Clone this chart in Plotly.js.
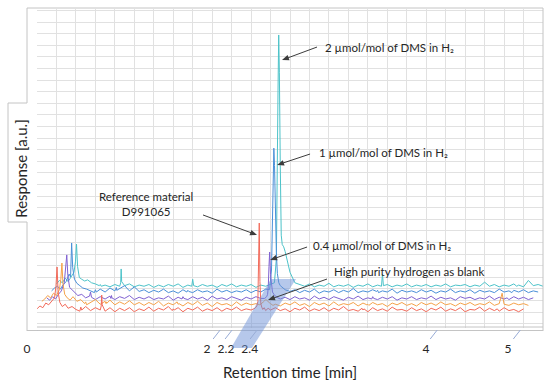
<!DOCTYPE html>
<html><head><meta charset="utf-8">
<script src="https://cdn.plot.ly/plotly-3.0.1.min.js"></script>
<style>html,body{margin:0;padding:0;background:#fff}#chart{width:550px;height:384px}</style>
</head><body><div id="chart"></div>
<script>
// Retention time samples (min), in the frame of the front series
const retentionTime = [
0.00,0.03,0.06,0.09,0.12,0.15,0.18,0.195,0.206,0.217,0.235,0.26,0.29,0.32,0.36,
0.40,0.44,0.45,0.46,0.50,0.55,0.60,0.65,0.66,0.665,0.67,0.70,0.75,0.80,0.85,0.90,0.95,1.00,
1.05,1.10,1.15,1.20,1.25,1.30,1.35,1.39,1.40,1.41,1.45,1.50,1.55,1.60,1.65,1.70,1.75,1.80,1.85,1.90,1.95,2.00,2.05,2.10,2.15,2.20,
2.24,2.26,2.27,2.277,2.284,2.291,2.30,2.31,2.32,2.335,2.35,2.375,2.40,
2.45,2.50,2.55,2.60,2.65,2.70,2.75,2.80,2.85,2.90,2.95,3.00,3.05,3.10,3.15,3.20,3.25,3.30,3.34,3.35,3.36,3.40,3.45,3.50,3.55,3.60,3.65,3.70,
3.75,3.80,3.85,3.90,3.95,4.00,4.05,4.10,4.15,4.20,4.25,4.30,4.35,4.40,4.45,4.50,4.55,4.60,4.65,4.70,4.73,4.75,4.80,4.85,4.90,4.95,5.00
];

const seriesNames = ['Reference material D991065','High purity hydrogen as blank','0.4 µmol/mol of DMS in H₂','1 µmol/mol of DMS in H₂','2 µmol/mol of DMS in H₂'];
const seriesColors = ['#f26a5a','#f5a24a','#8062d2','#4a8fd8','#4cc3c9'];

// Responses [a.u.]
const refMaterial = [
1.65,1.9,1.75,2.15,2.0,2.35,2.6,3.6,5.26,3.1,2.2,1.85,2.05,1.7,1.85,
1.6,1.45,1.8,1.55,1.85,1.5,1.75,1.55,1.9,2.84,2.0,1.45,1.75,1.4,1.7,1.5,1.75,1.4,
1.65,1.5,1.8,1.45,1.7,1.55,1.85,1.5,1.65,1.55,1.75,1.4,1.7,1.55,1.8,1.45,1.65,1.5,1.75,1.45,1.7,1.55,1.8,1.5,1.65,1.55,
1.7,1.9,2.3,5.0,9.05,4.0,2.1,1.8,1.6,1.75,1.5,1.7,1.55,
1.75,1.5,1.65,1.4,1.7,1.55,1.8,1.45,1.65,1.5,1.75,1.45,1.7,1.55,1.85,1.5,1.6,1.45,1.7,1.55,1.65,1.4,1.75,1.5,1.65,1.45,1.8,1.55,
1.6,1.45,1.75,1.5,1.65,1.4,1.7,1.55,1.8,1.45,1.65,1.5,1.75,1.4,1.6,1.55,1.8,1.45,1.7,1.5,1.65,1.45,1.75,1.5,1.6,1.4,1.65
];
const blankH2 = [
1.8,2.0,2.3,2.1,2.5,2.3,2.8,3.7,5.1,3.3,2.4,2.1,1.9,2.2,1.8,
1.95,1.6,1.75,1.5,1.7,1.95,1.55,1.8,1.6,1.75,1.65,1.9,1.5,1.75,1.55,1.85,1.5,1.7,
1.45,1.7,1.5,1.8,1.4,1.65,1.5,1.75,1.55,1.6,1.4,1.7,1.5,1.8,1.45,1.65,1.35,1.7,1.5,1.6,1.4,1.75,1.45,1.65,1.5,1.6,
1.5,1.6,1.7,1.75,1.8,1.85,1.95,1.9,1.8,1.7,1.6,1.45,1.55,
1.4,1.65,1.5,1.75,1.45,1.6,1.35,1.7,1.5,1.65,1.4,1.75,1.45,1.6,1.5,1.7,1.4,1.65,1.5,1.55,1.45,1.7,1.5,1.6,1.35,1.65,1.5,1.7,
1.45,1.6,1.4,1.7,1.5,1.65,1.45,1.75,1.5,1.6,1.4,1.65,1.5,1.7,1.45,1.6,1.5,1.75,1.45,1.6,2.5,1.55,1.45,1.65,1.5,1.6,1.45
];
const dms04 = [
1.6,1.4,1.7,1.5,1.9,2.2,2.9,4.1,5.3,3.5,2.5,2.3,2.0,1.8,1.9,
1.6,1.75,2.1,1.65,1.45,1.7,1.5,1.75,1.55,1.8,1.6,1.45,1.7,1.55,1.8,1.45,1.65,1.5,
1.7,1.45,1.6,1.5,1.75,1.4,1.65,1.5,1.7,1.55,1.45,1.7,1.5,1.65,1.4,1.75,1.5,1.6,1.45,1.7,1.55,1.4,1.65,1.5,1.7,1.55,
1.55,1.7,1.9,2.6,4.3,5.55,3.6,2.4,2.1,1.9,1.75,1.6,1.5,
1.65,1.45,1.7,1.5,1.6,1.4,1.75,1.5,1.65,1.45,1.7,1.55,1.4,1.65,1.5,1.75,1.45,1.6,1.5,1.7,1.55,1.45,1.65,1.5,1.7,1.4,1.6,1.5,
1.7,1.45,1.6,1.5,1.75,1.45,1.65,1.5,1.6,1.4,1.7,1.55,1.65,1.45,1.6,1.5,1.75,1.45,1.65,1.5,1.6,1.45,1.7,1.5,1.65,1.45,1.6
];
const dms1 = [
1.7,1.95,2.1,1.85,2.25,2.5,3.15,2.9,5.83,3.7,2.7,2.35,2.15,1.95,1.85,
1.7,1.55,1.8,1.6,1.85,1.6,1.95,1.7,1.85,2.0,1.75,1.9,2.15,1.7,2.05,1.65,1.8,1.55,
1.75,1.6,1.85,1.55,1.7,1.5,1.8,1.6,1.75,1.65,1.55,1.8,1.6,1.7,1.5,1.85,1.6,1.75,1.55,1.7,1.6,1.8,1.55,1.75,1.6,1.85,
1.8,3.5,7.5,11.5,14.0,12.5,8.5,5.0,3.2,2.4,2.15,1.95,1.8,
1.65,1.8,1.55,1.75,1.6,1.85,1.5,1.7,1.6,1.8,1.55,1.75,1.6,1.9,1.55,1.7,1.6,1.8,1.65,1.75,1.55,1.7,1.6,1.85,1.5,1.75,1.6,1.7,
1.55,1.8,1.6,1.75,1.5,1.7,1.6,1.85,1.55,1.7,1.6,1.8,1.5,1.75,1.6,1.7,1.55,1.85,1.6,1.7,1.55,1.75,1.6,1.8,1.55,1.7,1.6
];
const dms2 = [
1.8,2.1,1.9,2.3,2.0,2.4,2.8,3.7,5.24,3.3,2.35,2.2,2.05,2.15,1.9,
1.8,1.65,1.75,1.6,1.7,1.55,1.75,1.6,1.9,3.09,2.0,1.65,1.8,1.55,1.7,1.6,1.75,1.5,
1.7,1.55,1.75,1.6,1.8,1.5,1.7,1.6,2.2,1.65,1.55,1.75,1.6,1.7,1.5,1.75,1.6,1.8,1.55,1.7,1.6,1.75,1.5,1.7,1.6,1.75,
1.9,4.0,10.0,18.5,23.26,20.0,12.0,6.0,5.2,5.0,4.6,3.8,2.8,
1.9,1.75,1.6,1.8,1.55,1.7,1.6,1.85,1.55,1.7,1.6,1.75,1.5,1.7,1.6,1.8,1.55,1.7,1.6,2.65,1.65,1.75,1.55,1.7,1.6,1.8,1.55,1.7,
1.6,1.75,1.55,1.7,1.6,1.8,1.55,1.7,1.65,1.75,1.55,1.7,1.6,1.95,1.6,1.75,1.55,1.7,1.6,1.8,1.6,1.7,1.55,2.1,1.65,1.75,1.6
];

// x-axis tick labels (hand-placed in the original figure) and their slanted marks
const tickLabels = ['0', '2', '2.2', '2.4', '4', '5'];
const tickLabelPositions = [0, 1.850, 2.045, 2.289, 4.101, 4.944];
const tickMarkPositions = [0, 1.882, 2.005, 2.262, 4.113, 4.967];

// 3D depth offsets between successive series (style of the original pseudo-3D chart)
const depthX = 0.05, depthY = 0.5;

const allSeries = [refMaterial, blankH2, dms04, dms1, dms2];
const traces = [];
for (let k = allSeries.length - 1; k >= 0; k--) {
  traces.push({
    type: 'scatter', mode: 'lines', name: seriesNames[k],
    x: retentionTime.map(t => t + k * depthX),
    y: allSeries[k].map(v => v + k * depthY),
    line: {color: seriesColors[k], width: 1},
    hoverinfo: 'skip'
  });
}

// frame geometry in pixels (decorative shapes)
const ML = 33, MR = 7, MT = 9, MB = 56, FW = 550, FH = 384;
const PW = FW - ML - MR, PH = FH - MT - MB;
const plotLeft = 37;
const px = v => (v - ML) / PW;
const py = v => (FH - MB - v) / PH;
const P = (a, b) => px(a) + ',' + py(b);

const frameColor = '#c4c4c4';
const shapes = [
  {type: 'path', xref: 'paper', yref: 'paper', layer: 'above',
   path: 'M' + P(27, 331) + 'L' + P(27, 222) + 'L' + P(8, 222) + 'L' + P(8, 103) + 'L' + P(27, 103) + 'L' + P(27, 8) + 'L' + P(543, 8) + 'L' + P(543, 331),
   line: {color: frameColor, width: 1}},
  {type: 'line', xref: 'paper', yref: 'paper', x0: px(37), x1: px(543), y0: py(327), y1: py(327), line: {color: frameColor, width: 1}},
  {type: 'line', xref: 'paper', yref: 'paper', x0: px(27), x1: px(543), y0: py(330.5), y1: py(330.5), line: {color: frameColor, width: 1}},
  {type: 'path', xref: 'paper', yref: 'paper', layer: 'above',
   path: 'M' + P(231, 348) + 'L' + P(252, 348) + 'L' + P(296, 279) + 'L' + P(271, 279) + 'Z',
   fillcolor: 'rgba(110,145,215,0.5)', line: {width: 0}}
];
tickMarkPositions.forEach(tv => shapes.push({
  type: 'line', xref: 'x', yref: 'paper', xsizemode: 'pixel', ysizemode: 'pixel',
  xanchor: tv, yanchor: 0, x0: 0, x1: -7, y0: -2, y1: -11,
  line: {color: '#98acd6', width: 1}
}));

// callout arrows: tip at a data point, tail offset in screen pixels (dx right, dy down)
const arrowColor = '#3c3c3c';
function addArrow(x, y, dx, dy) {
  const len = Math.hypot(dx, dy), ux = dx / len, uy = -dy / len;
  const hl = 7, hw = 2.8;
  const bx = ux * hl, by = uy * hl, nx = -uy * hw, ny = ux * hw;
  shapes.push({type: 'line', xref: 'x', yref: 'y', xsizemode: 'pixel', ysizemode: 'pixel',
    xanchor: x, yanchor: y, x0: bx * 0.8, y0: by * 0.8, x1: dx, y1: -dy, layer: 'above',
    line: {color: arrowColor, width: 1}});
  shapes.push({type: 'path', xref: 'x', yref: 'y', xsizemode: 'pixel', ysizemode: 'pixel',
    xanchor: x, yanchor: y, layer: 'above',
    path: 'M0,0 L' + (bx + nx) + ',' + (by + ny) + ' L' + (bx - nx) + ',' + (by - ny) + ' Z',
    fillcolor: arrowColor, line: {width: 0}});
}
addArrow(2.518, 23.1, 35, -13);
addArrow(2.467, 14.05, 33, -11);
addArrow(2.261, 8.02, -54, -20);
addArrow(2.395, 5.86, 37, -13);
addArrow(2.374, 2.41, 59, -21);

const label = (x, y, text, anchor) => ({x, y, xref: 'x', yref: 'y', text, showarrow: false,
  xanchor: anchor || 'left', yanchor: 'middle', align: 'center', font: {size: 11.5, color: '#262626'}});

const annotations = [
  label(2.939, 24.14, '2 µmol/mol of DMS in H₂'),
  label(2.878, 15.17, '1 µmol/mol of DMS in H₂'),
  label(2.816, 7.07, '0.4 µmol/mol of DMS in H₂'),
  label(3.032, 4.91, 'High purity hydrogen as blank'),
  label(1.12, 10.69, 'Reference material<br>D991065', 'center')
];

const layout = {
  width: FW, height: FH,
  margin: {l: ML, r: MR, t: MT, b: MB},
  paper_bgcolor: '#ffffff', plot_bgcolor: '#ffffff',
  showlegend: false,
  font: {family: 'Lato, "Open Sans", sans-serif', color: '#262626', size: 12},
  xaxis: {
    domain: [(plotLeft - ML) / PW, 1],
    range: [0, 5.2], tickmode: 'array', tickvals: tickLabelPositions, ticktext: tickLabels,
    tickangle: 0,
    showgrid: false, zeroline: false, showline: false, ticks: '',
    ticklabelshift: -10, ticklabelstandoff: 12, tickfont: {size: 12, color: '#262626'},
    minor: {tickmode: 'linear', tick0: 0, dtick: 0.2, showgrid: true, gridcolor: '#e1e1e1', gridwidth: 1, ticks: ''},
    title: {text: 'Retention time [min]', font: {size: 15, color: '#262626'}, standoff: 12},
    automargin: false
  },
  yaxis: {
    anchor: 'free', position: 0,
    range: [0, 27.5], tickmode: 'linear', tick0: 0.37, dtick: 1,
    showgrid: true, gridcolor: '#e1e1e1', gridwidth: 1, showticklabels: false,
    zeroline: false, showline: false, ticks: '',
    title: {text: 'Response [a.u.]', font: {size: 15, color: '#262626'}, standoff: 0},
    automargin: false
  },
  shapes, annotations
};

Plotly.newPlot('chart', traces, layout, {staticPlot: true, displayModeBar: false});
</script>
</body></html>
